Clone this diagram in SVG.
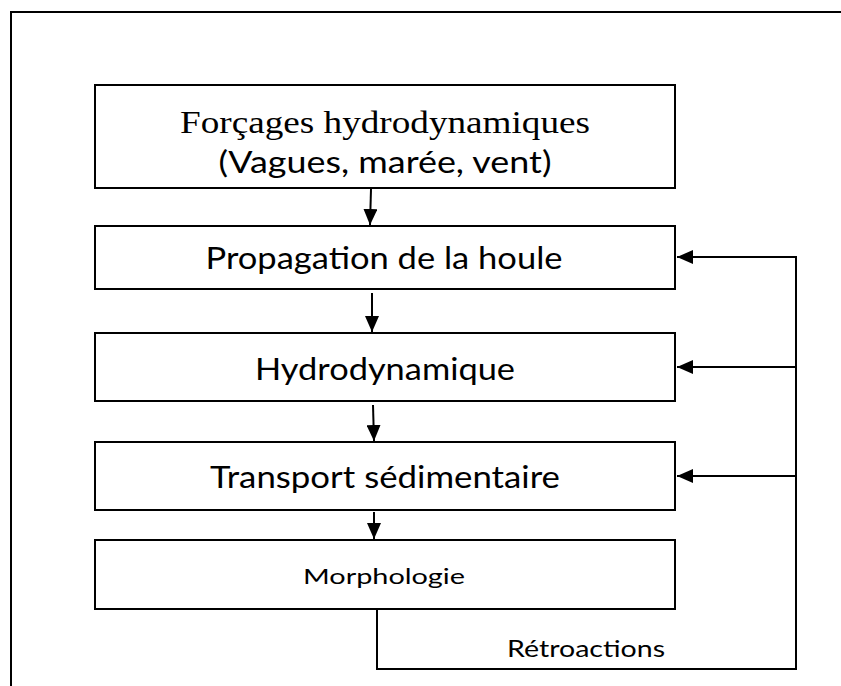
<svg xmlns="http://www.w3.org/2000/svg" width="841" height="686" viewBox="0 0 841 686">
<style>
.box{fill:#fff;stroke:#000;stroke-width:2}
.ln{fill:none;stroke:#000;stroke-width:2}
.t{font-family:Lato,"Liberation Sans",sans-serif;fill:#000;text-anchor:middle}
.s{font-family:"Liberation Serif",serif;fill:#000;text-anchor:middle}
</style>
<defs>
<marker id="ah" viewBox="0 0 16 14" refX="16" refY="7" markerWidth="16" markerHeight="14" orient="auto" markerUnits="userSpaceOnUse">
<path d="M0,0 L16,7 L0,14 Z" fill="#000"/>
</marker>
</defs>
<rect width="841" height="686" fill="#fff"/>
<path class="ln" d="M11,686 V12 H841" stroke-width="2.5"/>
<g id="n1"><rect class="box" x="95" y="85" width="580" height="103"/>
<text class="s" x="385" y="133" font-size="32" textLength="410" lengthAdjust="spacingAndGlyphs">Forçages hydrodynamiques</text>
<text class="t" x="385" y="173" font-size="30" textLength="333" lengthAdjust="spacingAndGlyphs">(Vagues, marée, vent)</text></g>
<g id="n2"><rect class="box" x="95" y="226" width="580" height="63"/>
<text class="t" x="384" y="269" font-size="30" textLength="357" lengthAdjust="spacingAndGlyphs">Propagation de la houle</text></g>
<g id="n3"><rect class="box" x="95" y="333" width="580" height="68"/>
<text class="t" x="385" y="380" font-size="30" textLength="260" lengthAdjust="spacingAndGlyphs">Hydrodynamique</text></g>
<g id="n4"><rect class="box" x="95" y="442" width="580" height="68"/>
<text class="t" x="385" y="488" font-size="30" textLength="350" lengthAdjust="spacingAndGlyphs">Transport sédimentaire</text></g>
<g id="n5"><rect class="box" x="95" y="540" width="580" height="69"/>
<text class="t" x="384" y="584" font-size="21" textLength="162" lengthAdjust="spacingAndGlyphs">Morphologie</text></g>
<g id="connectors">
<line class="ln" x1="371" y1="189" x2="370" y2="225" marker-end="url(#ah)"/>
<line class="ln" x1="372" y1="293" x2="372" y2="332" marker-end="url(#ah)"/>
<line class="ln" x1="373" y1="405" x2="374" y2="441" marker-end="url(#ah)"/>
<line class="ln" x1="374" y1="512" x2="374" y2="539" marker-end="url(#ah)"/>
<path class="ln" d="M377,609 V669 H796 V257 H677" marker-end="url(#ah)"/>
<line class="ln" x1="796" y1="367" x2="677" y2="367" marker-end="url(#ah)"/>
<line class="ln" x1="796" y1="476" x2="677" y2="476" marker-end="url(#ah)"/>
<text class="t" x="586" y="657" font-size="24" textLength="158" lengthAdjust="spacingAndGlyphs">Rétroactions</text>
</g>
</svg>
